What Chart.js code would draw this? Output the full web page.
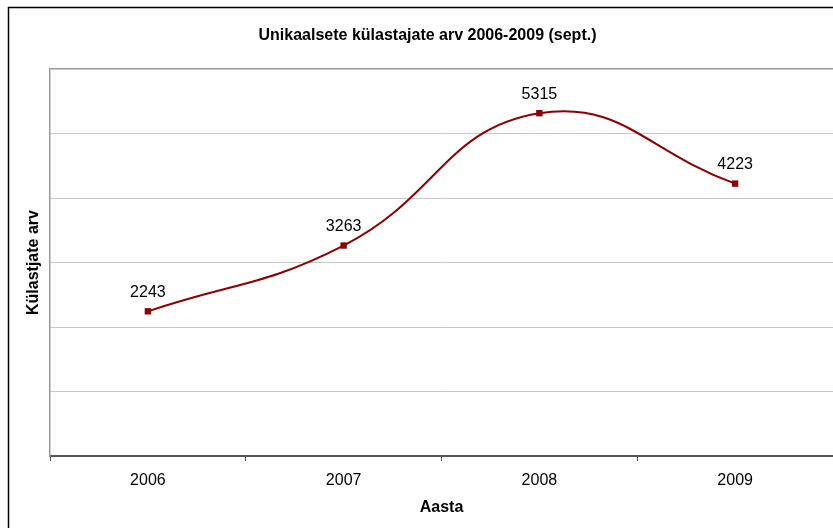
<!DOCTYPE html>
<html>
<head>
<meta charset="utf-8">
<script src="https://cdn.jsdelivr.net/npm/chart.js@4/dist/chart.umd.min.js"></script>
<style>
  html, body { margin: 0; padding: 0; background: #fff; overflow: hidden; }
  #wrap { position: relative; width: 833px; height: 528px; }
</style>
</head>
<body>
<div id="wrap"><canvas id="c" width="833" height="528"></canvas></div>
<script>
const chartTitle = 'Unikaalsete külastajate arv 2006-2009 (sept.)';
const categories = ['2006', '2007', '2008', '2009'];
const visitors = [2243, 3263, 5315, 4223];
const yAxisTitle = 'Külastjate arv';
const xAxisTitle = 'Aasta';
const yMin = 0, yMax = 6000, yStep = 1000;

const lineColor = '#8b0000';
const FONT = "'Liberation Sans', Arial, sans-serif";

const framePlugin = {
  id: 'frame',
  afterDraw(chart) {
    const ctx = chart.ctx;
    ctx.save();
    ctx.strokeStyle = '#000';
    ctx.lineWidth = 1.5;
    ctx.beginPath();
    ctx.moveTo(8.5, 540);
    ctx.lineTo(8.5, 7.5);
    ctx.lineTo(840, 7.5);
    ctx.stroke();
    ctx.restore();
  }
};

const labelPlugin = {
  id: 'pointLabels',
  afterDatasetsDraw(chart) {
    const ctx = chart.ctx;
    const meta = chart.getDatasetMeta(0);
    const data = chart.data.datasets[0].data;
    ctx.save();
    ctx.font = '16px ' + FONT;
    ctx.fillStyle = '#000';
    ctx.textAlign = 'center';
    ctx.textBaseline = 'middle';
    meta.data.forEach((pt, i) => {
      ctx.fillText(String(data[i]), pt.x, pt.y - 19);
    });
    ctx.restore();
  }
};

new Chart(document.getElementById('c'), {
  type: 'line',
  data: {
    labels: categories,
    datasets: [{
      data: visitors,
      borderColor: lineColor,
      backgroundColor: lineColor,
      borderWidth: 2,
      tension: 0.45,
      pointStyle: 'rect',
      pointRadius: 4.5,
      pointBorderWidth: 0,
      pointBackgroundColor: lineColor,
      clip: false
    }]
  },
  options: {
    responsive: false,
    animation: false,
    devicePixelRatio: 1,
    layout: { autoPadding: false, padding: { left: 22, top: 0, right: 0, bottom: 0 } },
    plugins: {
      legend: { display: false },
      tooltip: { enabled: false },
      title: {
        display: true,
        text: chartTitle,
        color: '#000',
        font: { family: FONT, size: 16, weight: 'bold' },
        padding: { top: 26.4, bottom: 23.4 }
      }
    },
    scales: {
      x: {
        type: 'category',
        offset: true,
        grid: {
          display: true,
          offset: true,
          drawOnChartArea: false,
          drawTicks: true,
          tickLength: 5,
          color: '#555'
        },
        border: { display: true, color: '#555', width: 2 },
        ticks: { color: '#000', font: { family: FONT, size: 16 }, padding: 10, maxRotation: 0 },
        title: {
          display: true,
          text: xAxisTitle,
          color: '#000',
          font: { family: FONT, size: 16, weight: 'bold' },
          padding: { top: 0, bottom: 11 }
        },
        afterFit(s) { s.height = 72; }
      },
      y: {
        min: yMin,
        max: yMax,
        ticks: { display: false, stepSize: yStep },
        grid: {
          drawTicks: false,
          color: (c) => (c.tick && c.tick.value === yMax) ? '#999' : '#c8c8c8',
          lineWidth: (c) => (c.tick && c.tick.value === yMax) ? 1.5 : 1
        },
        border: { display: true, color: '#999', width: 1.5 },
        title: {
          display: true,
          text: yAxisTitle,
          color: '#000',
          font: { family: FONT, size: 16, weight: 'bold' },
          padding: { top: 2, bottom: 0 }
        },
        afterFit(s) { s.width = 28; }
      }
    }
  },
  plugins: [framePlugin, labelPlugin]
});
</script>
</body>
</html>
